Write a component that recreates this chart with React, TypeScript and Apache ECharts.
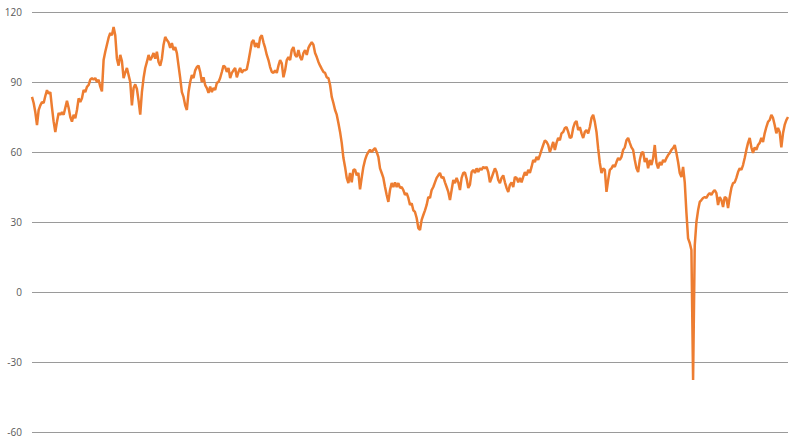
import React, { useEffect, useRef } from "react";
import * as echarts from "echarts";

// Price readings, read left to right off the reference (evenly spaced samples)
const seg2010_2011: number[] = [
  83.6, 81, 77, 71.5, 78, 80, 81.4, 81, 84, 86.5,
  85, 85.7, 79, 73, 68.5, 73, 76.7, 76, 77, 76,
  79, 82, 79, 75, 73, 76, 74.5, 78, 83, 81.4,
  83, 86.6, 85.7, 87.9, 88.7, 91, 91.7, 91, 91.7, 90,
  91, 88, 86, 99.4, 103, 106, 109, 111, 110, 113.6,
  110, 100, 97, 101.6, 99, 91.7, 94, 96, 93, 90,
  80, 87.4,
];
const seg2011_2013: number[] = [
  89, 87, 82, 76, 85.7, 91.7, 96, 98.6, 101.6, 99.4,
  100.7, 102.4, 100, 103, 98.6, 97, 100, 106, 109.3, 108,
  107, 104.6, 106.7, 103.7, 105, 102.4, 97, 91.7, 85.7, 83.6,
  80, 78, 85.7, 90, 93, 91.7, 95, 96.4, 97, 94.3,
  90, 92, 88.7, 87.4, 85.3, 88, 85.7, 87.4, 86.6, 89.6,
  90, 91.7, 94.3, 97, 96.4, 94.3, 96, 91.7, 93.9, 95,
  96, 92, 94.3, 96, 94, 95,
];
const seg2013_2015: number[] = [
  95, 95.5, 99, 103, 107, 108, 105, 106.7, 104.6, 109,
  110, 107, 104.6, 101.6, 99.4, 96.4, 94.3, 93.9, 95, 93.9,
  97, 99.4, 98, 92, 95, 99.4, 100.7, 99.4, 103.7, 105,
  101.6, 100.7, 103.7, 100.7, 99.4, 102.4, 103.7, 101.6, 104.6, 106,
  107, 106, 102.4, 100.7, 98.6, 97, 95.6, 94.3, 93.9, 92,
  91.7, 88.7, 83.6, 81, 78, 76, 72.4, 68.6, 63.9, 57.5,
  53.6, 48.9, 46.7, 51, 47, 52.3,
];
const seg2015_2016: number[] = [
  52.5, 50, 51, 44, 49, 53.6, 56.6, 58.7, 60, 60.9,
  60, 60.9, 61.7, 60, 57.9, 53, 51, 48.9, 45, 41.6,
  38.6, 43.7, 46.7, 45, 47, 45, 46.7, 44.6, 45, 43.7,
  41.6, 42.4, 40.3, 37.3, 38, 35, 34.3, 31.7, 27.4, 26.6,
  30.9, 33, 35, 37.3, 40.7, 40.3, 43.7, 45, 47, 48.9,
  50, 51, 48.9, 49.3, 47, 45, 42.9, 39.4, 43.7, 48,
  46.7, 48.9, 47, 43.7, 48.9, 51,
];
const seg2016_2018: number[] = [
  51.2, 48.5, 44.6, 46, 51.4, 52.3, 51, 53, 51.4, 53,
  52.3, 53.6, 53, 53.6, 51.4, 47, 48.9, 51, 53, 51.4,
  48, 46.7, 48.9, 50, 47, 44.6, 42.9, 45.9, 47, 45,
  49.3, 48.9, 47, 48.9, 47, 49.3, 51.4, 50, 52.3, 51,
  53.6, 56.6, 55.7, 57.9, 56.6, 58.7, 60.9, 63, 65, 64.3,
  63, 60, 62, 64.3, 60.9, 63.9, 66, 65, 68, 68.6,
  70.3, 70.7, 68.6, 66, 66.4, 70.3,
];
const seg2018_2020: number[] = [
  72.5, 73.3, 69.4, 70.7, 68, 66, 68.6, 69.4, 68, 70.7,
  74.6, 75.9, 72.9, 68.6, 61.5, 55.3, 51, 53, 52.3, 42.9,
  48, 52.3, 53, 54.4, 53.6, 55.7, 57.4, 56.6, 57.9, 60.9,
  62, 65, 66, 63.9, 62, 60.9, 56.6, 53, 51.4, 56.6,
  59.6, 60, 55.7, 57.4, 53, 56.6, 54.4, 57.4, 63, 55.3,
  53, 55.7, 54.4, 56.6, 55.7, 57.4, 58.7, 59.6, 60.9, 61.7,
  63, 59.6, 55.7, 51, 49.3, 53.6,
];
const seg2020_2021: number[] = [
  47, 34, 23, 21, 18, -37.7, 20, 30, 35, 38.6,
  39.4, 40.3, 40.7, 40.3, 41.6, 42.4, 41.6, 42.9, 43.7, 42.4,
  37.3, 40.7, 39.4, 36.4, 40.7, 40.3, 36, 40.7, 44.6, 46.7,
  47, 48.9, 51.4, 53, 52.3, 54.4, 57.4, 60.9, 63.9, 66,
  62, 59.6, 62, 60.9, 63, 63.9, 66, 64.3, 68, 70.7,
  72.9, 73.7, 75.9, 74.6, 71.6, 68, 70.3, 68.6, 62, 68,
  71.6, 73.7, 75,
];

const yMin = -60;
const yMax = 120;
const yStep = 30;

export default function App() {
  const ref = useRef<HTMLDivElement>(null);

  useEffect(() => {
    if (!ref.current) return;
    const chart = echarts.init(ref.current, undefined, { renderer: "svg" });
    const values = [
      ...seg2010_2011,
      ...seg2011_2013,
      ...seg2013_2015,
      ...seg2015_2016,
      ...seg2016_2018,
      ...seg2018_2020,
      ...seg2020_2021,
    ];
    const categories = values.map((_, i) => String(i));
    chart.setOption({
      animation: false,
      backgroundColor: "#ffffff",
      grid: { left: 32, right: 12, top: 12, bottom: 12, containLabel: false },
      xAxis: {
        type: "category",
        data: categories,
        boundaryGap: false,
        axisLine: { show: false },
        axisTick: { show: false },
        axisLabel: { show: false },
        splitLine: { show: false },
      },
      yAxis: {
        type: "value",
        min: yMin,
        max: yMax,
        interval: yStep,
        axisLine: { show: false },
        axisTick: { show: false },
        axisLabel: {
          color: "#595959",
          fontSize: 10,
          fontFamily: "Open Sans",
          margin: 10,
        },
        splitLine: { lineStyle: { color: "#9a9a9a", width: 1 } },
      },
      series: [
        {
          type: "line",
          data: values,
          showSymbol: false,
          symbol: "none",
          lineStyle: { color: "#ED7D31", width: 2.5 },
          itemStyle: { color: "#ED7D31" },
        },
      ],
    });
    return () => chart.dispose();
  }, []);

  return <div ref={ref} style={{ width: 800, height: 444, position: "absolute", left: 0, top: 0 }} />;
}
